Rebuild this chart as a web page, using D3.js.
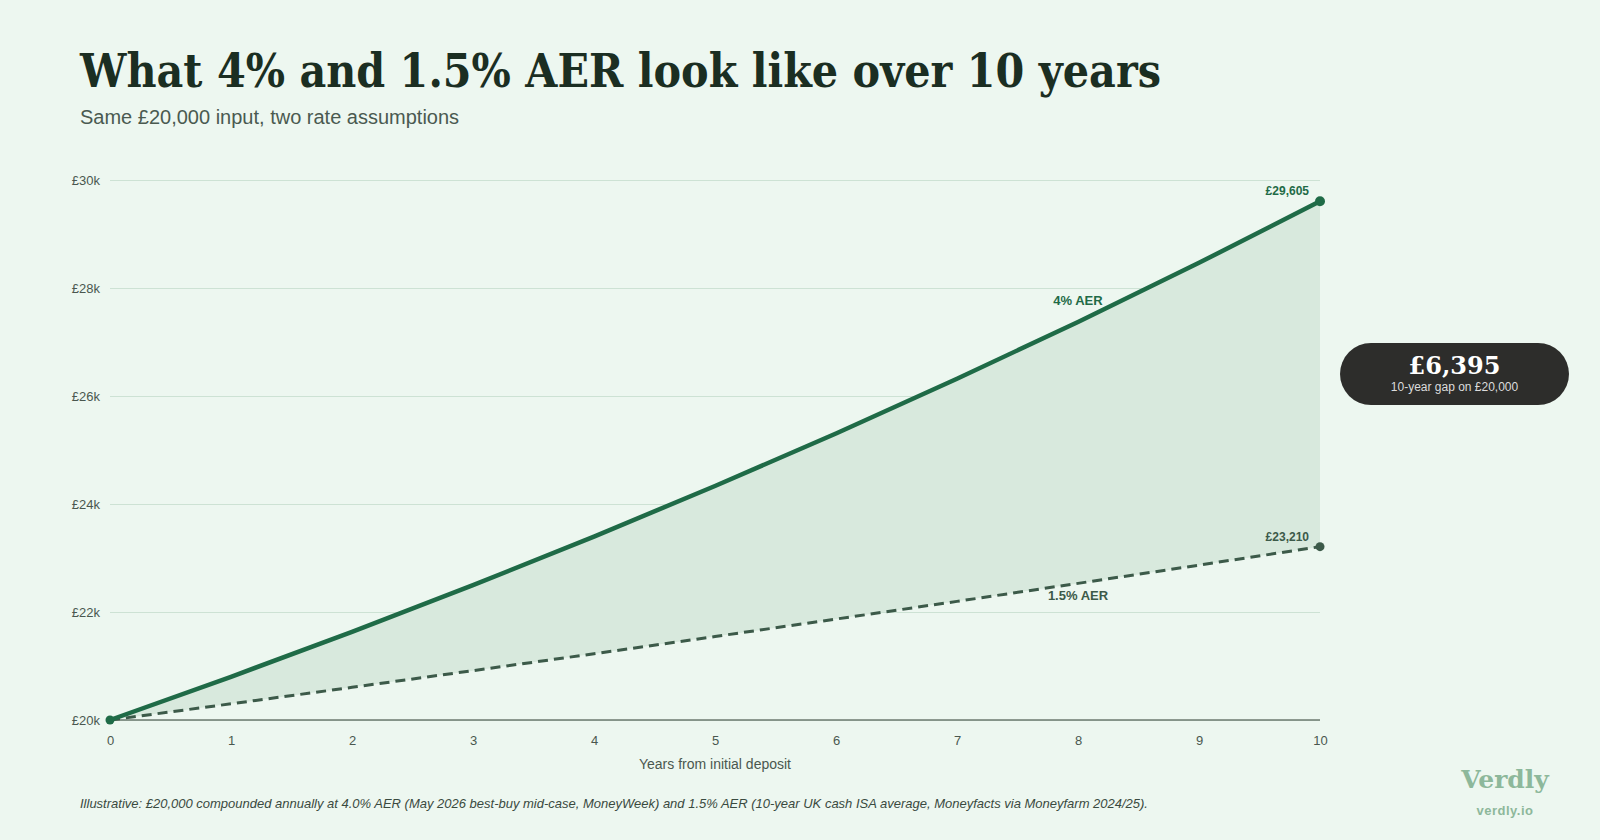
<!DOCTYPE html>
<html>
<head>
<meta charset="utf-8">
<script src="https://cdn.jsdelivr.net/npm/d3@7"></script>
<style>
  html, body { margin: 0; padding: 0; background: #edf7f0; }
  svg { display: block; }
</style>
</head>
<body>
<svg id="chart" width="1600" height="840"></svg>
<script>
// data
const years = [0, 1, 2, 3, 4, 5, 6, 7, 8, 9, 10];
const highRate = [20000, 20800, 21632, 22497, 23397, 24333, 25306, 26319, 27371, 28466, 29605];
const lowRate = [20000, 20300, 20605, 20914, 21227, 21546, 21869, 22197, 22530, 22868, 23210];
const yTicks = [20000, 22000, 24000, 26000, 28000, 30000];
const gapLabel = "£6,395";

const margin = { top: 180, right: 280, bottom: 120, left: 110 };
const width = 1600 - margin.left - margin.right;
const height = 840 - margin.top - margin.bottom;

const svg = d3.select("#chart");
const sans = "'Liberation Sans', Arial, sans-serif";
const serif = "'DejaVu Serif', Georgia, serif";

// title + subtitle
svg.append("text")
  .attr("x", 80).attr("y", 87)
  .attr("font-family", serif).attr("font-weight", 700)
  .attr("font-size", 46).attr("fill", "#1b2e22")
  .attr("textLength", 1081).attr("lengthAdjust", "spacingAndGlyphs")
  .text("What 4% and 1.5% AER look like over 10 years");

svg.append("text")
  .attr("x", 80).attr("y", 124)
  .attr("font-family", sans).attr("font-size", 20).attr("fill", "#4a5a50")
  .text("Same £20,000 input, two rate assumptions");

const g = svg.append("g").attr("transform", `translate(${margin.left}, ${margin.top})`);

const x = d3.scaleLinear().domain([0, 10]).range([0, width]);
const y = d3.scaleLinear().domain([20000, 30000]).range([height, 0]);

// y axis + gridlines
const yAxis = g.append("g")
  .call(d3.axisLeft(y).tickValues(yTicks).tickSize(-width).tickPadding(10)
    .tickFormat((d) => "£" + d / 1000 + "k"));
yAxis.select(".domain").remove();
yAxis.selectAll(".tick line").attr("stroke", "#cde2d4").attr("stroke-width", 1.2);
yAxis.selectAll(".tick text")
  .attr("font-family", sans).attr("font-size", 13).attr("fill", "#4a574f");

// shaded gap between the two lines
const area = d3.area()
  .x((d, i) => x(years[i]))
  .y0((d, i) => y(lowRate[i]))
  .y1((d) => y(d));

g.append("path")
  .datum(highRate)
  .attr("fill", "#d8e9dd")
  .attr("d", area);

// baseline
g.append("line")
  .attr("x1", 0).attr("x2", width)
  .attr("y1", y(20000)).attr("y2", y(20000))
  .attr("stroke", "#6c7a71").attr("stroke-width", 1.5);

// x axis
const xAxis = g.append("g")
  .attr("transform", `translate(0, ${height})`)
  .call(d3.axisBottom(x).tickValues(years).tickSize(0).tickPadding(16).tickFormat(d3.format("d")));
xAxis.select(".domain").remove();
xAxis.selectAll(".tick text")
  .attr("font-family", sans).attr("font-size", 13).attr("fill", "#4a574f");

g.append("text")
  .attr("x", width / 2).attr("y", height + 49)
  .attr("text-anchor", "middle")
  .attr("font-family", sans).attr("font-size", 14).attr("fill", "#4a574f")
  .text("Years from initial deposit");

// lines
const line = d3.line()
  .x((d, i) => x(years[i]))
  .y((d) => y(d));

g.append("path")
  .datum(lowRate)
  .attr("fill", "none")
  .attr("stroke", "#3c5a49")
  .attr("stroke-width", 3)
  .attr("stroke-dasharray", "10,6")
  .attr("d", line);

g.append("path")
  .datum(highRate)
  .attr("fill", "none")
  .attr("stroke", "#1f6b47")
  .attr("stroke-width", 4.5)
  .attr("d", line);

// end points
g.append("circle")
  .attr("cx", x(0)).attr("cy", y(highRate[0])).attr("r", 4.5).attr("fill", "#1f6b47");
g.append("circle")
  .attr("cx", x(10)).attr("cy", y(highRate[10])).attr("r", 5).attr("fill", "#1f6b47");
g.append("circle")
  .attr("cx", x(10)).attr("cy", y(lowRate[10])).attr("r", 4.5).attr("fill", "#3c5a49");

// value labels
g.append("text")
  .attr("x", x(10) - 11).attr("y", y(highRate[10]) - 6)
  .attr("text-anchor", "end")
  .attr("font-family", sans).attr("font-weight", 700).attr("font-size", 12)
  .attr("fill", "#1f6b47")
  .text("£" + d3.format(",")(highRate[10]));

g.append("text")
  .attr("x", x(10) - 11).attr("y", y(lowRate[10]) - 6)
  .attr("text-anchor", "end")
  .attr("font-family", sans).attr("font-weight", 700).attr("font-size", 12)
  .attr("fill", "#3c5a49")
  .text("£" + d3.format(",")(lowRate[10]));

// series labels
g.append("text")
  .attr("x", x(8)).attr("y", y(highRate[8]) - 17)
  .attr("text-anchor", "middle")
  .attr("font-family", sans).attr("font-weight", 700).attr("font-size", 13)
  .attr("fill", "#1f6b47")
  .text("4% AER");

g.append("text")
  .attr("x", x(8)).attr("y", y(lowRate[8]) + 17)
  .attr("text-anchor", "middle")
  .attr("font-family", sans).attr("font-weight", 700).attr("font-size", 13)
  .attr("fill", "#3c5a49")
  .text("1.5% AER");

// gap pill
const pill = svg.append("g").attr("transform", "translate(1340, 343)");
pill.append("rect")
  .attr("width", 229).attr("height", 62).attr("rx", 31)
  .attr("fill", "#2d2d2b");
pill.append("text")
  .attr("x", 114.5).attr("y", 31)
  .attr("text-anchor", "middle")
  .attr("font-family", serif).attr("font-weight", 700).attr("font-size", 24)
  .attr("fill", "#ffffff")
  .text(gapLabel);
pill.append("text")
  .attr("x", 114.5).attr("y", 48)
  .attr("text-anchor", "middle")
  .attr("font-family", sans).attr("font-size", 12)
  .attr("fill", "#dcdcdc")
  .text("10-year gap on £20,000");

// footnote
svg.append("text")
  .attr("x", 80).attr("y", 808)
  .attr("font-family", sans).attr("font-style", "italic").attr("font-size", 13)
  .attr("textLength", 1068).attr("lengthAdjust", "spacingAndGlyphs")
  .attr("fill", "#3a4a40")
  .text("Illustrative: £20,000 compounded annually at 4.0% AER (May 2026 best-buy mid-case, MoneyWeek) and 1.5% AER (10-year UK cash ISA average, Moneyfacts via Moneyfarm 2024/25).");

// brand
svg.append("text")
  .attr("x", 1505).attr("y", 788)
  .attr("text-anchor", "middle")
  .attr("font-family", serif).attr("font-weight", 700).attr("font-size", 25)
  .attr("fill", "#8db89b")
  .text("Verdly");
svg.append("text")
  .attr("x", 1505).attr("y", 815)
  .attr("text-anchor", "middle")
  .attr("font-family", sans).attr("font-weight", 700).attr("font-size", 13)
  .attr("letter-spacing", 0.5)
  .attr("fill", "#8db89b")
  .text("verdly.io");
</script>
</body>
</html>
